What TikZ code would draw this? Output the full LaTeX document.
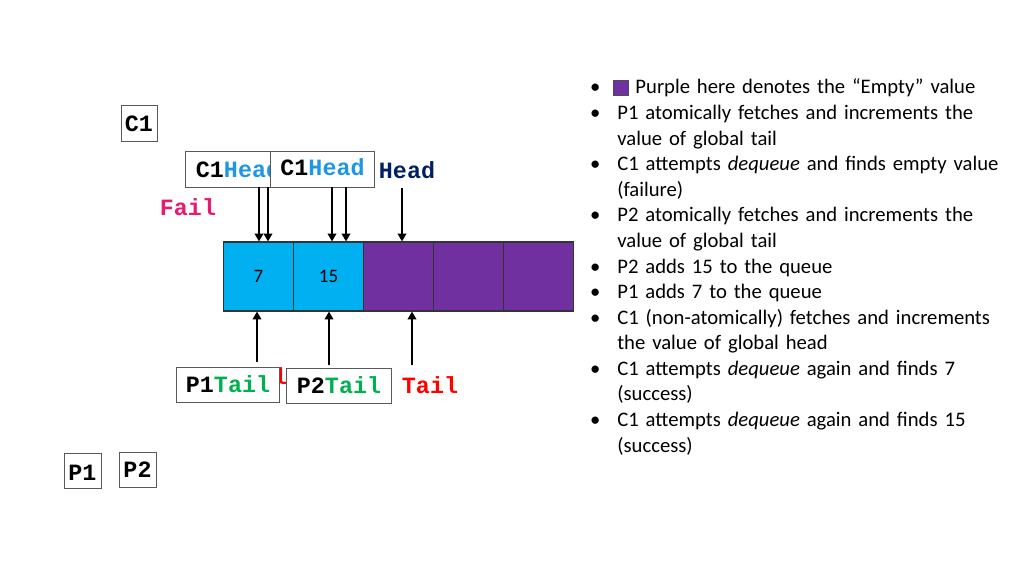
\documentclass[tikz,border=0pt]{standalone}
\usepackage{fontspec}
\setmainfont{Carlito}
\newfontfamily\codefont{Liberation Mono}
\usetikzlibrary{arrows.meta}

\definecolor{qcyan}{HTML}{00B0F0}
\definecolor{qpurple}{HTML}{7030A0}
\definecolor{headnavy}{HTML}{002060}
\definecolor{headblue}{HTML}{1E96E6}
\definecolor{failpink}{HTML}{E8196E}
\definecolor{tailgreen}{HTML}{00B050}
\definecolor{boxgray}{HTML}{595959}

\makeatletter
\def\@listi{\leftmargin\leftmargini \topsep\z@ \partopsep\z@ \parsep\z@ \itemsep\z@}
\let\@listI\@listi
\makeatother

\newcommand{\emptymark}{\hspace*{-2.8pt}\raisebox{-0.7pt}{\fboxsep=0pt\fboxrule=0.6pt\fcolorbox{black!70}{qpurple}{\rule{0pt}{10pt}\rule{10pt}{0pt}}}\hspace{4.5pt}}

\tikzset{
	box/.style={draw=boxgray, fill=white, line width=0.7pt, inner sep=0pt, minimum height=24.9pt, font=\codefont\bfseries\fontsize{16.6}{16.6}\selectfont},
	tag/.style={inner sep=0pt, font=\codefont\bfseries\fontsize{16.6}{16.6}\selectfont},
	cell/.style={draw=black!80, line width=0.8pt, minimum width=49.8pt, minimum height=49.1pt, inner sep=0pt, font=\fontsize{13.5}{13.5}\selectfont},
	ptr/.style={line width=1.9pt, -{Triangle[length=5.5pt, width=6pt]}},
}

\begin{document}
\begin{tikzpicture}[x=0.025cm, y=-0.025cm]
	%%%%% START %%%%%
	\useasboundingbox (0, 0) rectangle (1024, 576);

	\node[box, minimum width=25.6pt] (c1) at (139, 123.5) {C1};

	\node[box, minimum width=74pt] (c1heada) at (238, 169.5) {C1{\color{headblue}Head}};
	\node[box, minimum width=73.3pt, text depth=3pt] (c1headb) at (322.5, 169.5) {C1{\color{headblue}Head}};
	\node[tag, text=headnavy] (head) at (407, 170) {Head};
	\node[tag, text=failpink] (fail) at (188, 207) {Fail};

	% queue
	\foreach \i/\c/\v in {1/qcyan/7, 2/qcyan/15, 3/qpurple/{}, 4/qpurple/{}, 5/qpurple/{}}
		\node[cell, fill=\c] (q\i) at ({258.5 + 70*(\i-1)}, 276.5) {\v};

	% head pointers
	\coordinate (ha) at (259, 0);
	\coordinate (hb) at (268, 0);
	\coordinate (hc) at (332, 0);
	\coordinate (hd) at (346, 0);
	\coordinate (he) at (402, 188);
	\draw[ptr] (c1heada.south -| ha) -- (q1.north -| ha);
	\draw[ptr] (c1heada.south -| hb) -- (q1.north -| hb);
	\draw[ptr] (c1headb.south -| hc) -- (q2.north -| hc);
	\draw[ptr] (c1headb.south -| hd) -- (q2.north -| hd);
	\draw[ptr] (he) -- (he |- q3.north);

	% tail pointers
	\coordinate (ta) at (257, 362);
	\coordinate (tb) at (329, 365);
	\coordinate (tc) at (412, 365);
	\draw[ptr] (ta) -- (ta |- q1.south);
	\draw[ptr] (tb) -- (tb |- q2.south);
	\draw[ptr] (tc) -- (tc |- q3.south);

	\node[tag, text=red] (oldtail) at (259, 376) {Tail};
	\node[box, minimum width=72.6pt] (p1tail) at (228, 384.5) {P1{\color{tailgreen}Tail}};
	\node[box, minimum width=74pt] (p2tail) at (339, 385.5) {P2{\color{tailgreen}Tail}};
	\node[tag, text=red] (tail) at (430, 385) {Tail};

	\node[box, minimum width=26.3pt, minimum height=24.2pt, text height=14pt] (p1) at (82.5, 471) {P1};
	\node[box, minimum width=26.3pt, minimum height=24.2pt] (p2) at (137.5, 470) {P2};

	% notes
	\node[anchor=north west, inner sep=0pt, text width=330pt, font=\fontsize{14.7}{18.2}\selectfont] (notes) at (592, 68) {%
		\setlength{\leftmargini}{17.8pt}\setlength{\labelsep}{12pt}%
		\begin{itemize}
			\item \emptymark Purple here denotes the “Empty” value
			\item P1 atomically fetches and increments the\newline value of global tail
			\item C1 attempts \emph{dequeue} and finds empty value\newline (failure)
			\item P2 atomically fetches and increments the\newline value of global tail
			\item P2 adds 15 to the queue
			\item P1 adds 7 to the queue
			\item C1 (non-atomically) fetches and increments\newline the value of global head
			\item C1 attempts \emph{dequeue} again and finds 7\newline (success)
			\item C1 attempts \emph{dequeue} again and finds 15\newline (success)
		\end{itemize}};

	%%%%% END %%%%%
\end{tikzpicture}
\end{document}
